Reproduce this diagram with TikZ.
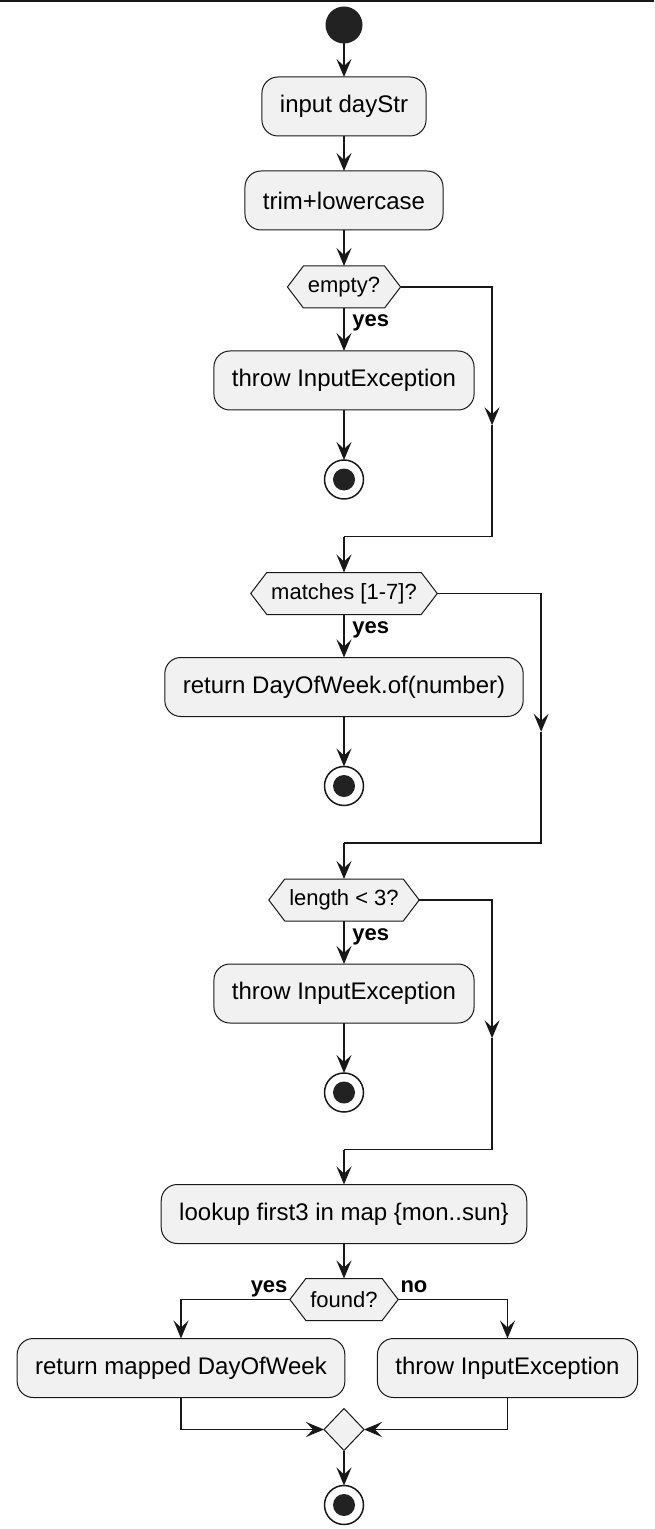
\documentclass[tikz,border=0pt]{standalone}
\usepackage{fontspec}
\setmainfont{Liberation Sans}
\usetikzlibrary{arrows.meta, calc, positioning, shapes.geometric, backgrounds}
\definecolor{linecol}{HTML}{181818}
\definecolor{boxfill}{HTML}{F1F1F1}
\definecolor{dotfill}{HTML}{222222}

\begin{document}
\begin{tikzpicture}[
 actbox/.style={draw=linecol, line width=0.5pt, fill=boxfill, rounded corners=8pt,
   minimum height=29.5pt, inner xsep=9pt, outer sep=0pt,
   font=\fontsize{12pt}{14pt}\selectfont},
 ifnode/.style={inner xsep=10.25pt, inner ysep=0pt, outer sep=0pt, minimum height=21pt,
   font=\fontsize{11pt}{13pt}\selectfont},
 ifshape/.style={draw=linecol, line width=0.5pt, fill=boxfill},
 mergenode/.style={diamond, draw=linecol, line width=0.5pt, fill=boxfill,
   inner sep=0pt, outer sep=0pt, minimum width=20pt, minimum height=21pt},
 startnode/.style={circle, fill=dotfill, inner sep=0pt, outer sep=0pt, minimum size=18.5pt},
 endnode/.style={circle, draw=linecol, line width=0.75pt, fill=white, inner sep=0pt,
   outer sep=0pt, minimum size=19.5pt,
   path picture={\fill[dotfill] (path picture bounding box.center) circle (5.5pt);}},
 guard/.style={font=\bfseries\fontsize{11pt}{13pt}\selectfont, inner sep=0pt},
 conn/.style={draw=linecol, line width=0.75pt,
   -{Stealth[length=9pt, width=7.5pt, inset=3.5pt]}},
 flow/.style={draw=linecol, line width=0.75pt},
 ]
 \useasboundingbox (0,0) rectangle (327pt,-764.5pt);
 \draw[flow, line width=1pt] (0,-0.5pt) -- (327pt,-0.5pt);

 % main column
 \node[startnode] (start) at (172pt,-12.5pt) {};
 \node[actbox, below=16.75pt of start] (input) {input dayStr};
 \node[actbox, below=17.5pt of input] (trim) {trim+lowercase};
 \node[ifnode, below=18pt of trim] (empty) {empty?};
 \node[actbox, below=21.5pt of empty] (throwa) {throw InputException};
 \node[endnode, below=25pt of throwa] (stopa) {};
 \coordinate[below=18.75pt of stopa] (joina);
 \node[ifnode, below=18pt of joina] (digit) {matches [1-7]?};
 \node[actbox, below=21.5pt of digit] (retnum) {return DayOfWeek.of(number)};
 \node[endnode, below=25pt of retnum] (stopb) {};
 \coordinate[below=18.75pt of stopb] (joinb);
 \node[ifnode, below=18pt of joinb] (short) {length < 3?};
 \node[actbox, below=21.5pt of short] (throwb) {throw InputException};
 \node[endnode, below=25pt of throwb] (stopc) {};
 \coordinate[below=18.75pt of stopc] (joinc);
 \node[actbox, below=17.5pt of joinc] (lookup) {lookup first3 in map \{mon..sun\}};
 \node[ifnode, below=17.5pt of lookup] (found) {found?};
 \node[actbox, below=9pt of found, xshift=-81.5pt] (mapped) {return mapped DayOfWeek};
 \node[actbox, below=9pt of found, xshift=81.75pt] (throwc) {throw InputException};
 \node[mergenode, below=44pt of found] (merge) {};
 \node[endnode, below=17.5pt of merge] (stopd) {};

 % guards
 \node[guard, anchor=base west] (yesa) at ($(empty.south)+(4pt,-9.5pt)$) {yes};
 \node[guard, anchor=base west] (yesb) at ($(digit.south)+(4pt,-9.5pt)$) {yes};
 \node[guard, anchor=base west] (yesc) at ($(short.south)+(4pt,-9.5pt)$) {yes};
 \node[guard, anchor=base east] (yesd) at ($(found.west)+(-1pt,3.5pt)$) {yes};
 \node[guard, anchor=base west] (nod) at ($(found.east)+(1pt,3.5pt)$) {no};

 % hexagons behind the decision texts
 \begin{pgfonlayer}{background}
 \foreach \d in {empty,digit,short,found}
  \draw[ifshape] (\d.west) -- ([xshift=8pt]\d.north west) -- ([xshift=-8pt]\d.north east)
   -- (\d.east) -- ([xshift=-8pt]\d.south east) -- ([xshift=8pt]\d.south west) -- cycle;
 \end{pgfonlayer}

 \draw[conn] (start) -- (input);
 \draw[conn] (input) -- (trim);
 \draw[conn] (trim) -- (empty);
 \draw[conn] (empty) -- (throwa);
 \draw[conn] (throwa) -- (stopa);
 \draw[conn] (digit) -- (retnum);
 \draw[conn] (retnum) -- (stopb);
 \draw[conn] (short) -- (throwb);
 \draw[conn] (throwb) -- (stopc);

 % else branches
 \coordinate (rta) at ($(throwa.east |- empty.east)+(9pt,0)$);
 \coordinate (rba) at ($(throwa.east |- joina)+(9pt,0)$);
 \coordinate (rma) at ($(rta)!0.5!(rba)+(0,-6.75pt)$);
 \draw[conn] (empty.east) -- (rta) -- (rma);
 \draw[flow] (rma) -- (rba) -- (joina);
 \draw[conn] (joina) -- (digit);

 \coordinate (rtb) at ($(retnum.east |- digit.east)+(9pt,0)$);
 \coordinate (rbb) at ($(retnum.east |- joinb)+(9pt,0)$);
 \coordinate (rmb) at ($(rtb)!0.5!(rbb)+(0,-6.75pt)$);
 \draw[conn] (digit.east) -- (rtb) -- (rmb);
 \draw[flow] (rmb) -- (rbb) -- (joinb);
 \draw[conn] (joinb) -- (short);

 \coordinate (rtc) at ($(throwb.east |- short.east)+(9pt,0)$);
 \coordinate (rbc) at ($(throwb.east |- joinc)+(9pt,0)$);
 \coordinate (rmc) at ($(rtc)!0.5!(rbc)+(0,-6.75pt)$);
 \draw[conn] (short.east) -- (rtc) -- (rmc);
 \draw[flow] (rmc) -- (rbc) -- (joinc);
 \draw[conn] (joinc) -- (lookup);

 \draw[conn] (lookup) -- (found);
 \draw[conn] (found.west) -| (mapped.north);
 \draw[conn] (found.east) -| (throwc.north);
 \draw[conn] (mapped.south) |- (merge.west);
 \draw[conn] (throwc.south) |- (merge.east);
 \draw[conn] (merge) -- (stopd);

\end{tikzpicture}
\end{document}
